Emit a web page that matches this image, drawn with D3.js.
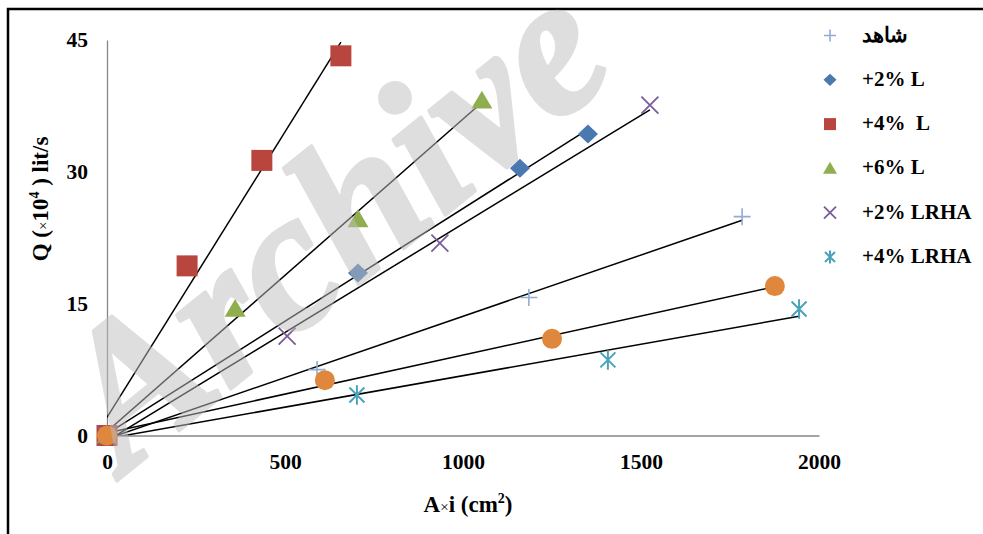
<!DOCTYPE html>
<html>
<head>
<meta charset="utf-8">
<script src="https://cdn.jsdelivr.net/npm/d3@7"></script>
<style>
body { margin: 0; background: #fff; }
text { font-family: "Liberation Serif", "Times New Roman", serif; font-weight: bold; }
</style>
</head>
<body>
<script>
var width = 983;
var height = 534;

// data: [A*i, Q]
var control = [[0, 0], [590, 7.5], [1185, 15.7], [1784, 24.9]];
var l2 = [[0, 0], [705, 18.5], [1160, 30.4], [1351, 34.3]];
var l4 = [[0, 0], [225, 19.3], [435, 31.3], [657, 43.2]];
var l6 = [[0, 0], [360, 14.4], [705, 24.6], [1053, 38.1]];
var lrha2 = [[0, 0], [506, 11.3], [935, 21.9], [1525, 37.6]];
var lrha4 = [[0, 0], [702, 4.6], [1407, 8.6], [1944, 14.4]];
var extra = [[0, 0], [612, 6.3], [1250, 11.0], [1876, 17.0]];

var labels = ["شاهد", "+2% L", "+4%  L", "+6% L", "+2% LRHA", "+4% LRHA"];
var colors = ["#92acd4", "#4a78b0", "#b8463f", "#8fae4f", "#7a5c9a", "#4aa3bb", "#df873c"];
var shapes = ["plus", "diamond", "square", "triangle", "cross", "star", "circle"];
var xTicks = [0, 500, 1000, 1500, 2000];
var yTicks = [0, 15, 30, 45];

var allSeries = [control, l2, l4, l6, lrha2, lrha4, extra];

var svg = d3.select("body")
    .append("svg")
    .attr("width", width)
    .attr("height", height);

var x = d3.scaleLinear().domain([0, 2000]).range([107, 819]);
var y = d3.scaleLinear().domain([0, 45]).range([435.5, 40]);

// outer frame
svg.append("rect")
    .attr("x", 8).attr("y", 9)
    .attr("width", 1000).attr("height", 600)
    .attr("fill", "none")
    .attr("stroke", "#000")
    .attr("stroke-width", 2.5);

// axes
var xAxis = svg.append("g").attr("transform", "translate(0," + y(0) + ")")
    .call(d3.axisBottom(x).tickValues(xTicks).tickFormat(d3.format("d")).tickSize(0).tickPadding(18));
var yAxis = svg.append("g").attr("transform", "translate(" + x(0) + ",0)")
    .call(d3.axisLeft(y).tickValues(yTicks).tickFormat(d3.format("d")).tickSize(0).tickPadding(19));
[xAxis, yAxis].forEach(function (g) {
    g.attr("font-family", null).attr("font-size", null);
    g.select(".domain").attr("stroke", "#868686").attr("stroke-width", 1.3);
    g.selectAll("text")
        .attr("fill", "#000")
        .style("font-family", "Liberation Serif")
        .style("font-weight", "bold")
        .style("font-size", "21.5px");
});

// trendlines (least squares, drawn over the data range)
svg.append("clipPath").attr("id", "plot")
    .append("rect")
    .attr("x", x(0)).attr("y", y(45) - 4)
    .attr("width", x(2000) - x(0)).attr("height", y(0) - y(45) + 4);

function fit(pts) {
    var mx = d3.mean(pts, function (d) { return d[0]; });
    var my = d3.mean(pts, function (d) { return d[1]; });
    var sxy = d3.sum(pts, function (d) { return (d[0] - mx) * (d[1] - my); });
    var sxx = d3.sum(pts, function (d) { return (d[0] - mx) * (d[0] - mx); });
    var b = sxy / sxx;
    return { b: b, a: my - b * mx };
}

var line = d3.line()
    .x(function (d) { return x(d[0]); })
    .y(function (d) { return y(d[1]); });

var trends = svg.append("g").attr("clip-path", "url(#plot)");
allSeries.forEach(function (pts) {
    var f = fit(pts);
    var x1 = d3.max(pts, function (d) { return d[0]; });
    trends.append("path")
        .attr("d", line([[0, f.a], [x1, f.a + f.b * x1]]))
        .attr("fill", "none")
        .attr("stroke", "#000")
        .attr("stroke-width", 1.5);
});

// marker paths
function marker(shape, s) {
    switch (shape) {
        case "plus": return "M" + (-s) + ",0H" + s + "M0," + (-s) + "V" + s;
        case "diamond": return "M0," + (-s * 0.95) + "L" + s + ",0L0," + (s * 0.95) + "L" + (-s) + ",0Z";
        case "square": return "M" + (-s) + "," + (-s) + "H" + s + "V" + s + "H" + (-s) + "Z";
        case "triangle": return "M0," + (-s * 0.95) + "L" + s + "," + (s * 0.75) + "L" + (-s) + "," + (s * 0.75) + "Z";
        case "cross": return "M" + (-s) + "," + (-s) + "L" + s + "," + s + "M" + (-s) + "," + s + "L" + s + "," + (-s);
        case "star": return "M" + (-s) + "," + (-s) + "L" + s + "," + s + "M" + (-s) + "," + s + "L" + s + "," + (-s) + "M0," + (-s * 1.3) + "V" + (s * 1.3);
        case "circle": return d3.symbol(d3.symbolCircle, Math.PI * s * s)();
    }
}
var stroked = { plus: 1.6, cross: 1.8, star: 2 };
var plotSize = { plus: 8.5, diamond: 10, square: 10.5, triangle: 10.5, cross: 8.5, star: 7.5, circle: 10 };
var legendSize = { plus: 6, diamond: 6.5, square: 6, triangle: 7, cross: 6, star: 5, circle: 6 };

function drawMarker(g, shape, color, s) {
    var p = g.append("path").attr("d", marker(shape, s));
    if (stroked[shape]) {
        p.attr("fill", "none").attr("stroke", color).attr("stroke-width", stroked[shape]);
    } else {
        p.attr("fill", color);
    }
    return p;
}

allSeries.forEach(function (pts, i) {
    var g = svg.append("g");
    pts.forEach(function (d) {
        drawMarker(g, shapes[i], colors[i], plotSize[shapes[i]])
            .attr("transform", "translate(" + x(d[0]) + "," + y(d[1]) + ")");
    });
});

// axis titles
svg.append("text")
    .attr("x", 468).attr("y", 512)
    .attr("text-anchor", "middle")
    .style("font-size", "23px")
    .html('A<tspan style="font-size:15px;font-weight:normal">×</tspan>i (cm<tspan dy="-9" style="font-size:14px">2</tspan><tspan dy="9">)</tspan>');

svg.append("text")
    .attr("transform", "translate(48,199) rotate(-90)")
    .attr("text-anchor", "middle")
    .style("font-size", "23px")
    .html('Q (<tspan style="font-size:15px;font-weight:normal">×</tspan>10<tspan dy="-9" style="font-size:14px">4</tspan><tspan dy="9"> ) lit/s</tspan>');

// legend
var legend = svg.append("g");
labels.forEach(function (t, i) {
    var ly = 35.5 + i * 44.3;
    drawMarker(legend, shapes[i], colors[i], legendSize[shapes[i]])
        .attr("transform", "translate(830," + ly + ")");
    legend.append("text")
        .attr("x", 862).attr("y", ly + 6)
        .style("font-size", "21px")
        .style("white-space", "pre")
        .text(t);
});

// watermark
svg.append("text")
    .attr("transform", "translate(125,474) rotate(-39)")
    .style("font-size", "198px")
    .style("font-style", "italic")
    .attr("fill", "rgb(190,190,190)")
    .attr("stroke", "rgb(190,190,190)")
    .attr("stroke-width", 4)
    .attr("stroke-linejoin", "round")
    .attr("opacity", 0.5)
    .text("Archive");
</script>
</body>
</html>
